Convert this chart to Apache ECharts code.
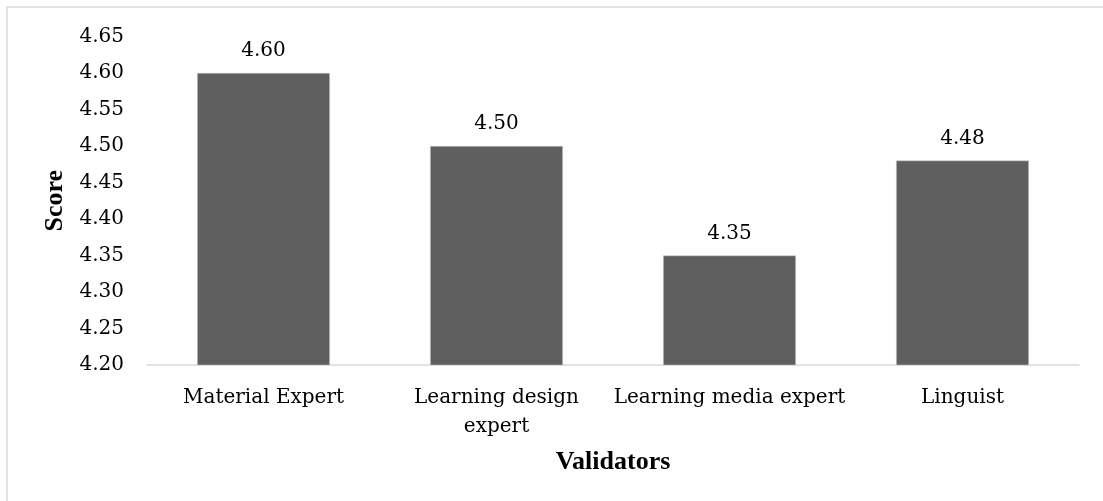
<!DOCTYPE html>
<html>
<head>
<meta charset="utf-8">
<script src="https://cdn.jsdelivr.net/npm/echarts@6/dist/echarts.min.js"></script>
<style>
  html, body { margin: 0; padding: 0; background: #fff; }
  #chart-wrapper { width: 1103px; height: 501px; }
</style>
</head>
<body>
<div id="chart-wrapper"></div>
<script>
// values
const categories = ['Material Expert', 'Learning design\nexpert', 'Learning media expert', 'Linguist']
const scores = [4.60, 4.50, 4.35, 4.48]
const yTicks = { min: 4.20, max: 4.65, step: 0.05 }

const LABEL_FONT = 'DejaVu Serif'
const NAME_FONT = 'Liberation Serif'

let chart = echarts.init(document.getElementById('chart-wrapper'))
let option = {
  animation: false,
  backgroundColor: '#fff',
  graphic: [
    {
      type: 'rect',
      shape: { x: 7, y: 7, width: 1200, height: 600 },
      style: { fill: 'none', stroke: '#d9d9d9', lineWidth: 1.5 },
      silent: true
    }
  ],
  grid: {
    left: 147,
    right: 24,
    top: 36.5,
    bottom: 136
  },
  xAxis: {
    type: 'category',
    data: categories,
    name: 'Validators',
    nameLocation: 'middle',
    nameGap: 84,
    nameTextStyle: {
      fontFamily: NAME_FONT,
      fontWeight: 'bold',
      fontSize: 26,
      color: '#000'
    },
    axisLine: { lineStyle: { color: '#d9d9d9', width: 1.5 } },
    axisTick: { show: false },
    axisLabel: {
      fontFamily: LABEL_FONT,
      fontSize: 20,
      color: '#000',
      margin: 18,
      lineHeight: 29,
      interval: 0
    }
  },
  yAxis: {
    type: 'value',
    min: yTicks.min,
    max: yTicks.max,
    interval: yTicks.step,
    name: 'Score',
    nameLocation: 'middle',
    nameGap: 78,
    nameTextStyle: {
      fontFamily: NAME_FONT,
      fontWeight: 'bold',
      fontSize: 26,
      color: '#000'
    },
    axisLine: { show: false },
    axisTick: { show: false },
    splitLine: { show: false },
    axisLabel: {
      fontFamily: LABEL_FONT,
      fontSize: 20,
      color: '#000',
      margin: 23,
      formatter: v => v.toFixed(2)
    }
  },
  series: [
    {
      type: 'bar',
      data: scores,
      barWidth: '57%',
      itemStyle: {
        color: '#5f5f5f',
        borderColor: '#cfcfcf',
        borderWidth: 0.5
      },
      label: {
        show: true,
        position: 'top',
        distance: 12,
        fontFamily: LABEL_FONT,
        fontSize: 20,
        color: '#000',
        formatter: p => p.value.toFixed(2)
      }
    }
  ]
}
chart.setOption(option)
</script>
</body>
</html>
